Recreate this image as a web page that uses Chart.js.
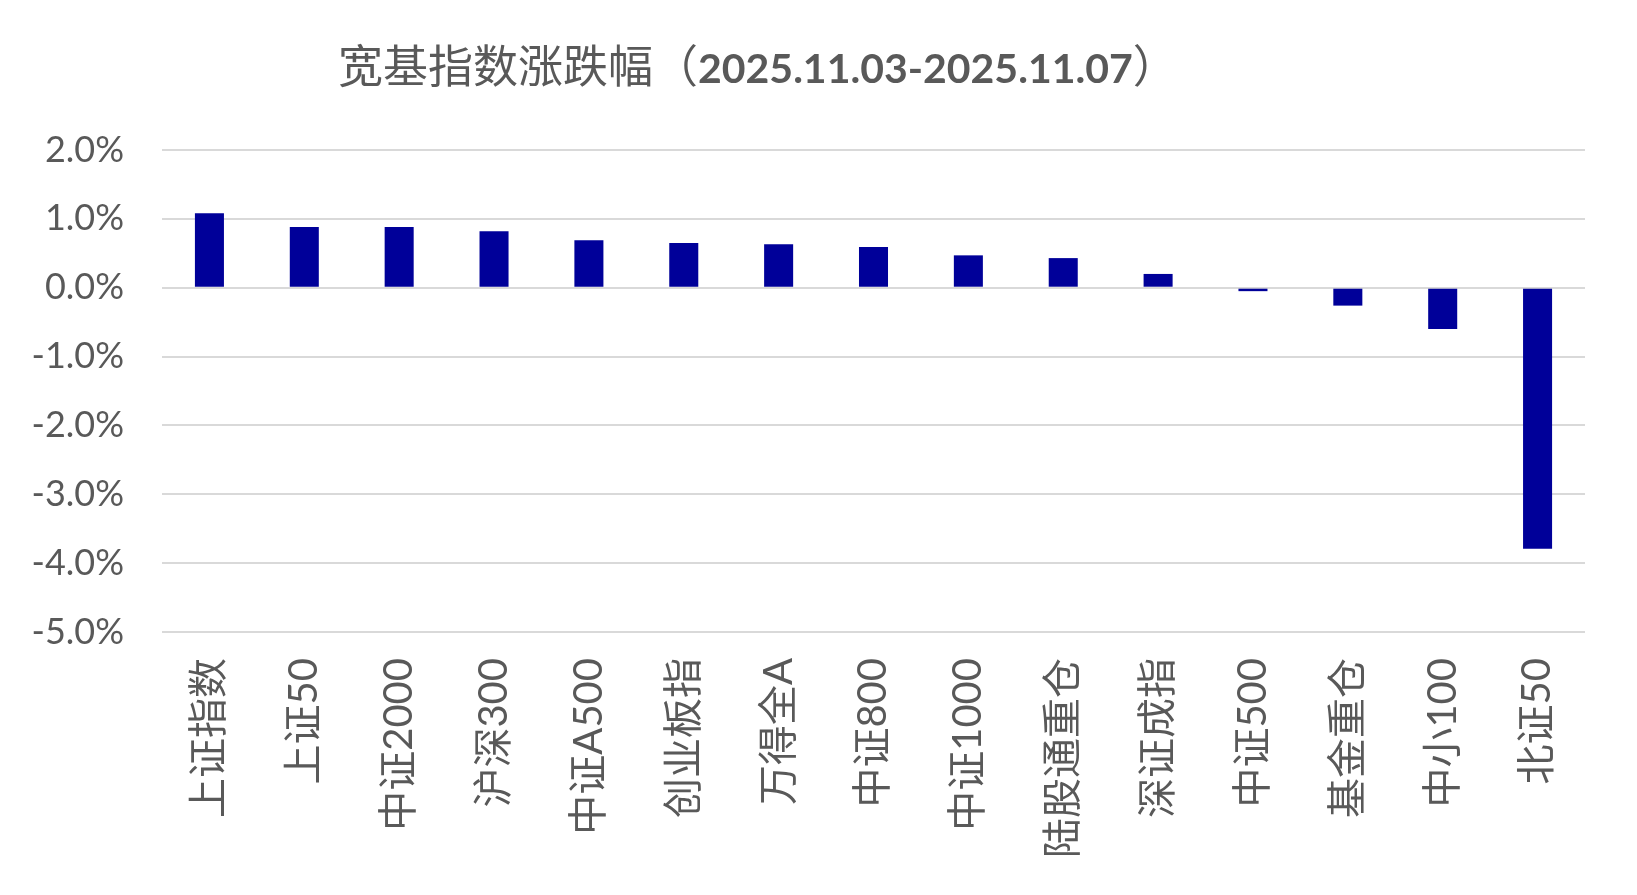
<!DOCTYPE html>
<html>
<head>
<meta charset="utf-8">
<script src="https://cdn.jsdelivr.net/npm/chart.js@4/dist/chart.umd.min.js"></script>
<style>
  html, body { margin: 0; padding: 0; background: #fff; }
  #wrap { position: relative; width: 1637px; height: 895px; }
  #title {
    position: absolute; left: 338px; top: 36px;
    font-family: 'Noto Sans CJK SC', sans-serif; font-size: 45px; line-height: 56px;
    color: #595959; white-space: nowrap;
  }
  #title b { font-family: Lato, 'Open Sans', sans-serif; font-weight: 700; font-size: 41px; }
</style>
</head>
<body>
<div id="wrap">
  <div id="title">宽基指数涨跌幅（<b>2025.11.03-2025.11.07</b>）</div>
  <canvas id="chart" width="1637" height="895"></canvas>
</div>
<script>
// ===== DATA =====
const CATEGORIES = ['上证指数','上证50','中证2000','沪深300','中证A500','创业板指','万得全A','中证800','中证1000','陆股通重仓','深证成指','中证500','基金重仓','中小100','北证50'];
const CHANGES = [1.08, 0.88, 0.88, 0.82, 0.69, 0.65, 0.63, 0.59, 0.47, 0.43, 0.20, -0.05, -0.26, -0.60, -3.79];
const Y_TICKS = [2, 1, 0, -1, -2, -3, -4, -5];

const FONT = "Lato, 'Noto Sans CJK SC', sans-serif";

const ctx = document.getElementById('chart').getContext('2d');

new Chart(ctx, {
    type: 'bar',
    data: {
        labels: CATEGORIES,
        datasets: [{
            data: CHANGES,
            backgroundColor: '#000099',
            barPercentage: 0.306,
            categoryPercentage: 1,
        }]
    },
    options: {
        responsive: false,
        animation: false,
        layout: { padding: { top: 150, right: 52, bottom: 0, left: 0 } },
        plugins: {
            legend: { display: false },
            tooltip: { enabled: false },
            title: { display: false }
        },
        scales: {
            x: {
                grid: { display: false },
                border: { display: false },
                ticks: {
                    minRotation: 90,
                    maxRotation: 90,
                    padding: 18,
                    autoSkip: false,
                    font: { family: FONT, size: 40 },
                    color: '#595959'
                },
                afterFit: (s) => { s.height = 895 - 632; }
            },
            y: {
                min: -5,
                max: 2,
                afterBuildTicks: (s) => { s.ticks = Y_TICKS.map(v => ({ value: v })); },
                grid: { color: '#d9d9d9', lineWidth: 2, drawTicks: false },
                border: { display: false },
                ticks: {
                    padding: 38,
                    font: { family: FONT, size: 36 },
                    color: '#595959',
                    callback: (v) => v.toFixed(1) + '%'
                },
                afterFit: (s) => { s.width = 162; }
            }
        }
    }
});
</script>
</body>
</html>
